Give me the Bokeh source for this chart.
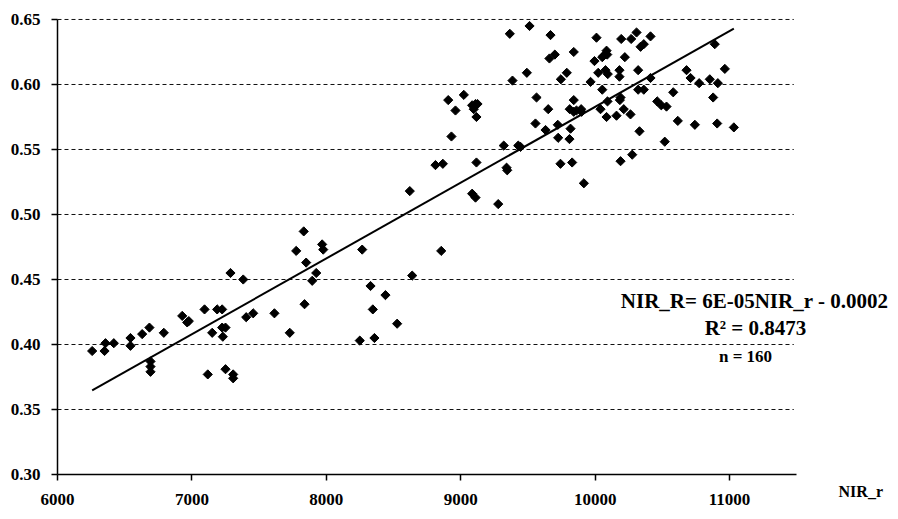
import numpy as np
from bokeh.plotting import figure
from bokeh.models import Range1d, FixedTicker, PrintfTickFormatter, Label
from bokeh.embed import file_html
from bokeh.resources import INLINE

# ---- data ----
nir_r = [6258, 6350, 6357, 6419, 6543, 6543, 6630, 6684, 6791, 6692,
         6692, 6692, 6928, 6965, 6977, 7094, 7151, 7188, 7225, 7225,
         7250, 7230, 7118, 7250, 7307, 7307, 7287, 7382, 7404, 7456,
         7614, 7728, 7776, 7832, 7850, 7838, 7895, 7925, 7969, 7977,
         8267, 8329, 8440, 8346, 8527, 8249, 8358, 8639, 8855, 8621,
         9085, 9110, 9279, 9365, 9512, 9668, 10010, 10194, 10268, 10308,
         10338, 10085, 9841, 9700, 9660, 9995, 10053, 10090, 10221, 9492,
         9385, 9789, 9745, 9966, 10023, 10077, 10094, 10181, 10181, 10320,
         10053, 10320, 8907, 9023, 8961, 9085, 9110, 9097, 9117, 9564,
         9841, 9651, 9811, 9841, 9896, 10040, 10189, 10184, 10085, 10159,
         10213, 10263, 10330, 9556, 9631, 9722, 9817, 9725, 9809, 8931,
         9320, 9428, 8812, 8867, 9117, 9341, 9346, 9742, 9829, 9916,
         10189, 10276, 10412, 10362, 10412, 10680, 10710, 10774, 10853, 10913,
         10965, 10890, 10362, 10581, 10462, 10492, 10531, 10878, 10615, 10742,
         10908, 11032, 10518, 10062, 9861, 9899, 10092, 9125, 9445]
nir_R = [0.395, 0.395, 0.401, 0.401, 0.405, 0.399, 0.408, 0.413, 0.409, 0.387,
         0.383, 0.379, 0.422, 0.417, 0.418, 0.427, 0.409, 0.427, 0.427, 0.413,
         0.413, 0.406, 0.377, 0.381, 0.377, 0.374, 0.455, 0.450, 0.421, 0.424,
         0.424, 0.409, 0.472, 0.487, 0.463, 0.431, 0.449, 0.455, 0.477, 0.473,
         0.473, 0.445, 0.438, 0.427, 0.416, 0.403, 0.405, 0.453, 0.472, 0.518,
         0.516, 0.513, 0.508, 0.639, 0.645, 0.638, 0.636, 0.635, 0.635, 0.640,
         0.629, 0.626, 0.625, 0.623, 0.620, 0.618, 0.621, 0.623, 0.621, 0.609,
         0.603, 0.609, 0.604, 0.602, 0.609, 0.611, 0.608, 0.611, 0.606, 0.611,
         0.596, 0.596, 0.588, 0.592, 0.580, 0.584, 0.585, 0.581, 0.575, 0.590,
         0.588, 0.581, 0.581, 0.579, 0.581, 0.581, 0.590, 0.588, 0.575, 0.576,
         0.581, 0.577, 0.564, 0.570, 0.565, 0.569, 0.566, 0.559, 0.558, 0.560,
         0.553, 0.553, 0.538, 0.539, 0.540, 0.536, 0.534, 0.539, 0.540, 0.524,
         0.541, 0.546, 0.637, 0.631, 0.605, 0.611, 0.605, 0.601, 0.604, 0.601,
         0.612, 0.631, 0.596, 0.594, 0.587, 0.584, 0.583, 0.590, 0.572, 0.569,
         0.570, 0.567, 0.556, 0.622, 0.580, 0.579, 0.587, 0.585, 0.552]

x_ticks = [6000, 7000, 8000, 9000, 10000, 11000]
y_ticks = [0.30, 0.35, 0.40, 0.45, 0.50, 0.55, 0.60, 0.65]
x_axis_min, x_axis_max = 6000, 11500
y_axis_min, y_axis_max = 0.30, 0.65

slope = 5.83e-5
intercept = -0.0002

eq_text = "NIR_R= 6E-05NIR_r - 0.0002"
r2_text = "R\u00b2 = 0.8473"
n_text = "n = 160"
x_label = "NIR_r"

FONT = "Liberation Serif"

# the view covers the whole canvas; the axes are pinned at the data origin
# so tick labels and side texts are never cut by the plot frame
p = figure(width=898, height=519,
           x_range=Range1d(5576, 12257), y_range=Range1d(0.2654, 0.6646),
           output_backend="svg", toolbar_location=None,
           min_border_left=0, min_border_right=0,
           min_border_top=0, min_border_bottom=0)
p.outline_line_color = None
p.background_fill_color = "white"
p.border_fill_color = "white"
p.xgrid.visible = False
p.ygrid.visible = False

# dashed horizontal grid lines (end just before the axis end)
grid_y = [t for t in y_ticks if t > y_axis_min]
p.segment(x0=[x_axis_min] * len(grid_y), y0=grid_y,
          x1=[11478] * len(grid_y), y1=grid_y,
          line_color="#111111", line_dash="4 3", line_width=1)

# axes
for ax in (p.xaxis[0], p.yaxis[0]):
    ax.axis_line_color = "black"
    ax.axis_line_width = 1.5
    ax.major_tick_line_color = "black"
    ax.major_tick_line_width = 1.5
    ax.major_tick_out = 6
    ax.major_tick_in = 0
    ax.minor_tick_line_color = None
    ax.major_label_text_font = FONT
    ax.major_label_text_font_style = "bold"
    ax.major_label_text_font_size = "17px"
    ax.major_label_text_color = "black"

p.xaxis.ticker = FixedTicker(ticks=x_ticks)
p.xaxis.formatter = PrintfTickFormatter(format="%d")
p.xaxis.bounds = (x_axis_min, x_axis_max)
p.xaxis.fixed_location = y_axis_min
p.xaxis.major_label_standoff = 13
p.yaxis.ticker = FixedTicker(ticks=y_ticks)
p.yaxis.formatter = PrintfTickFormatter(format="%.2f")
p.yaxis.bounds = (y_axis_min, y_axis_max)
p.yaxis.fixed_location = x_axis_min
p.yaxis.major_label_standoff = 11

# points
p.scatter(nir_r, nir_R, marker="square", angle=np.pi / 4, size=6.5,
          fill_color="black", line_color="black", line_width=1)

# trend line
tx = np.array([min(nir_r), max(nir_r)], dtype=float)
ty = slope * tx + intercept
p.line(tx, ty, line_color="black", line_width=2)

# annotations
common = dict(text_baseline="middle", text_font=FONT,
              text_font_style="bold", text_color="black")
p.add_layout(Label(x=11186, y=0.4332, text=eq_text, text_align="center",
                   text_font_size="21px", **common))
p.add_layout(Label(x=11193, y=0.4124, text=r2_text, text_align="center",
                   text_font_size="21px", **common))
p.add_layout(Label(x=11119, y=0.3908, text=n_text, text_align="center",
                   text_font_size="17px", **common))
p.add_layout(Label(x=11811, y=0.2870, text=x_label, text_align="left",
                   text_font_size="16px", **common))

open("out.html", "w").write(file_html(p, INLINE))
